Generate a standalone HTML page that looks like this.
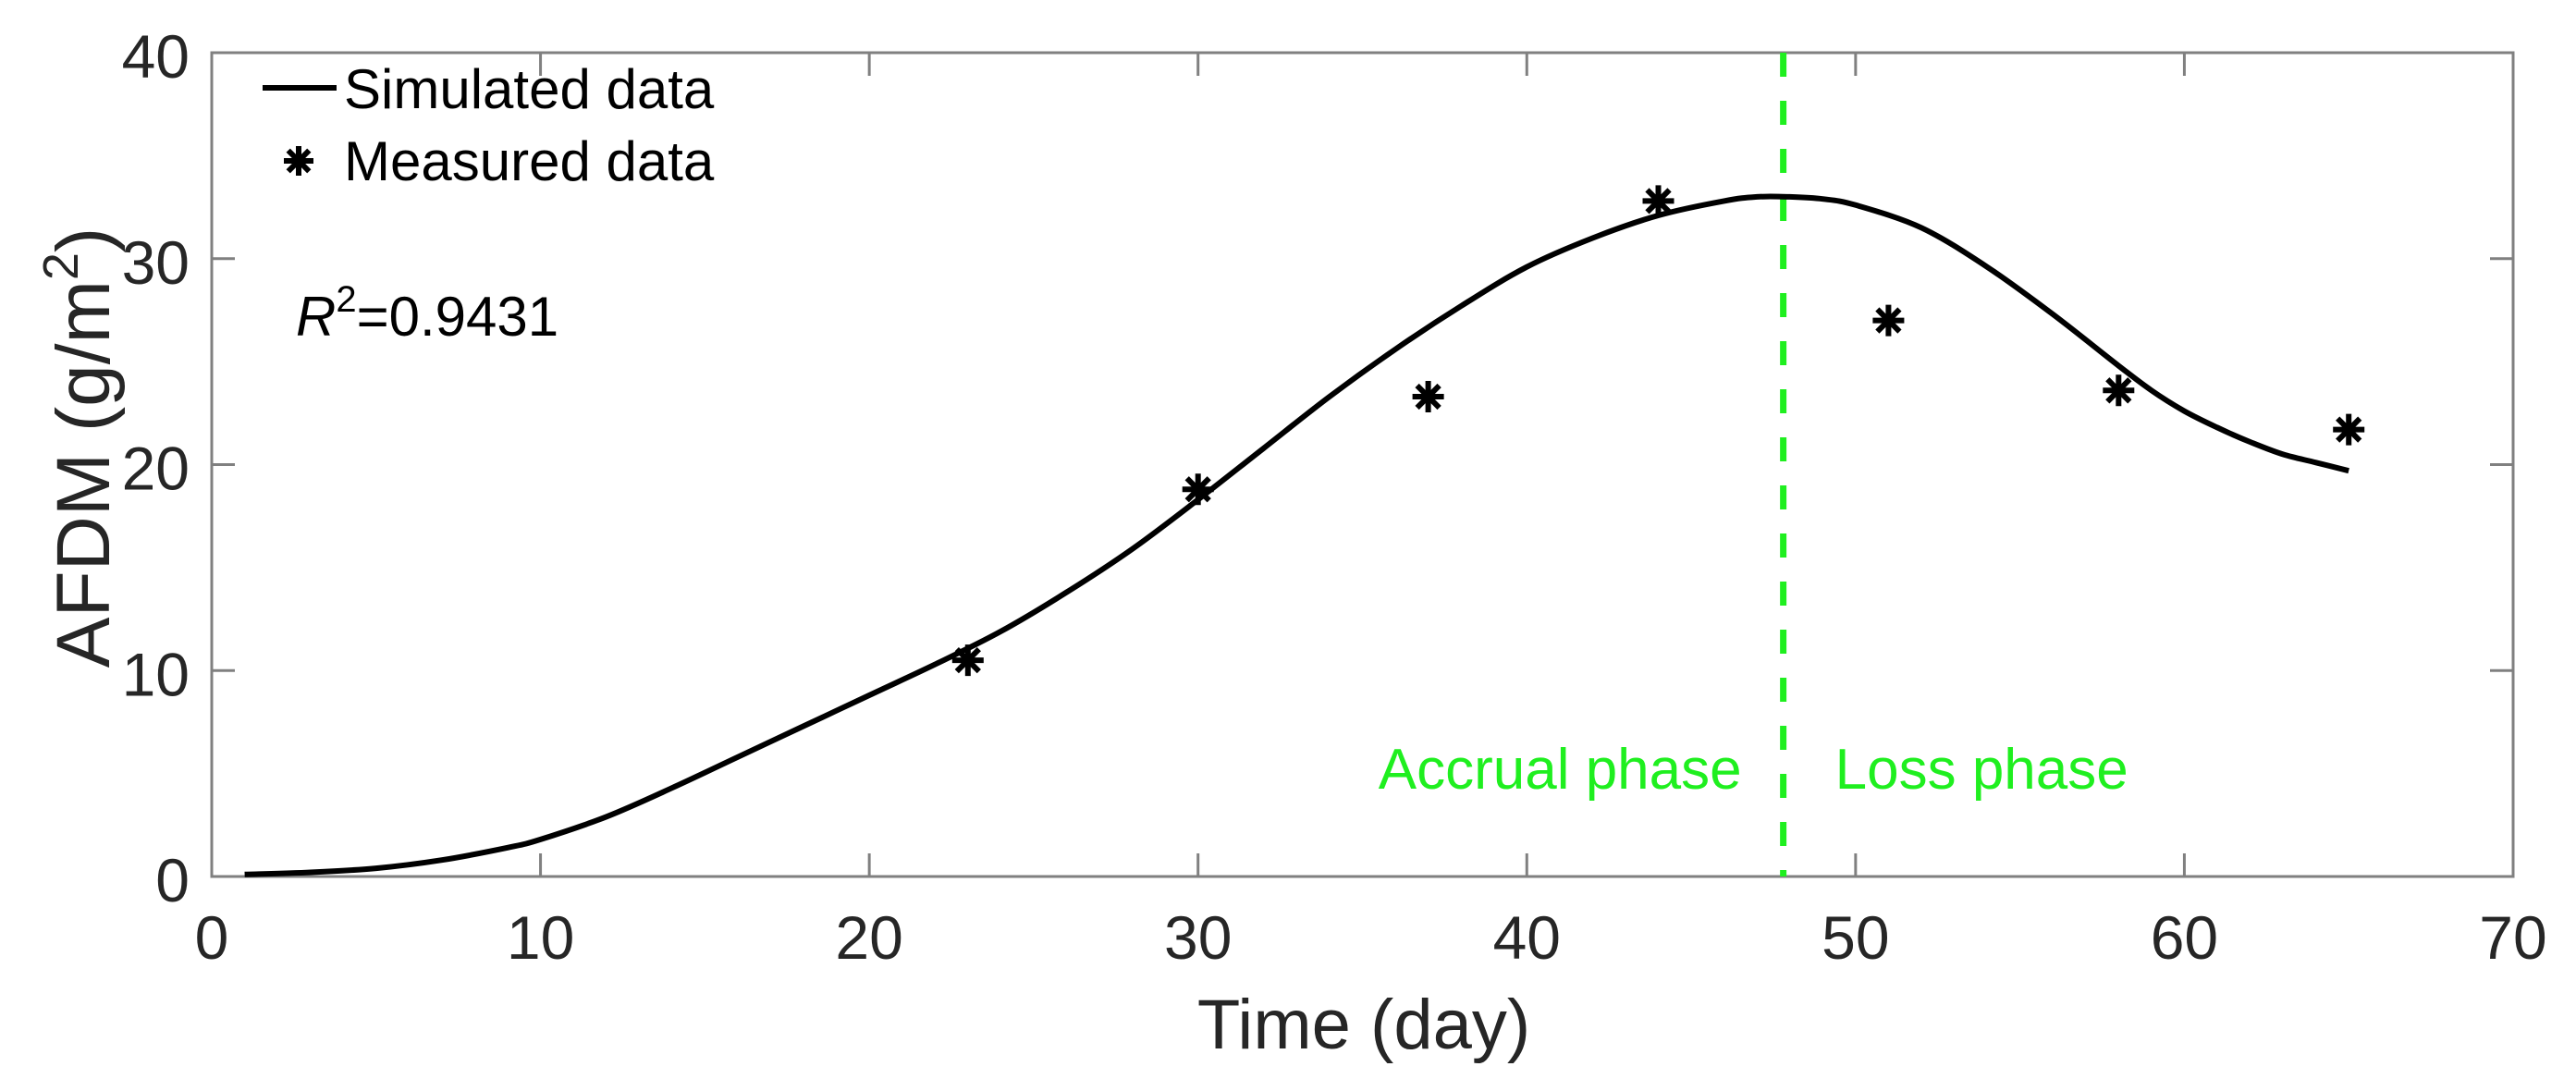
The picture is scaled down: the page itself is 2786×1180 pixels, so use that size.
<!DOCTYPE html>
<html>
<head>
<meta charset="utf-8">
<style>
  html,body{margin:0;padding:0;background:#fff;}
  svg{display:block;font-family:"Liberation Sans",Arial,sans-serif;}
</style>
</head>
<body>
<svg id="chart" width="2786" height="1180" viewBox="0 0 2786 1180" xmlns="http://www.w3.org/2000/svg">
  <rect x="0" y="0" width="2786" height="1180" fill="#fff"/>
  <g id="axes"></g>
  <g id="series"></g>
  <g id="legend"></g>
</svg>
<script>
const curveDays = [1,3,5,7,9,10,12,14,16,18,20,22,24,26,28,30,32,34,36,38,40,42,44,46,47,48,49,50,52,54,56,58,59,60,61,62,63,64,65];
const curveValues = [0.1,0.2,0.4,0.8,1.4,1.8,2.9,4.3,5.8,7.3,8.8,10.3,11.9,13.8,15.9,18.3,20.8,23.3,25.6,27.7,29.6,31.0,32.1,32.8,33.0,33.0,32.9,32.6,31.5,29.6,27.3,24.8,23.6,22.6,21.8,21.1,20.5,20.1,19.7];
const measuredDays = [23,30,37,44,51,58,65];
const measuredValues = [10.5,18.8,23.3,32.8,27.0,23.6,21.7];
const xTicks = [0,10,20,30,40,50,60,70];
const yTicks = [0,10,20,30,40];
const phaseBoundary = 47.8;

const NS = "http://www.w3.org/2000/svg";
const L = 229, R = 2718, T = 57, B = 948;
const xMin = 0, xMax = 70, yMin = 0, yMax = 40;
function xs(v){ return L + (v - xMin) / (xMax - xMin) * (R - L); }
function ys(v){ return B - (v - yMin) / (yMax - yMin) * (B - T); }
function mk(tag, attrs, parent){
  const e = document.createElementNS(NS, tag);
  for (const k in attrs) e.setAttribute(k, attrs[k]);
  parent.appendChild(e);
  return e;
}
const axes = document.getElementById("axes");
const series = document.getElementById("series");
const legend = document.getElementById("legend");

const box = mk("rect", {x:L, y:T, width:R-L, height:B-T, fill:"none", stroke:"#808080", "stroke-width":3}, axes);



const TL = 25;
xTicks.forEach(t => {
  const x = xs(t);
  const tb = mk("line", {x1:x, y1:B, x2:x, y2:B-TL, stroke:"#808080", "stroke-width":3}, axes);
  
  
  const tt = mk("line", {x1:x, y1:T, x2:x, y2:T+TL, stroke:"#808080", "stroke-width":3}, axes);
  
  
  const lab = mk("text", {x:x, y:1037, "text-anchor":"middle", "font-size":66, fill:"#262626"}, axes);
  lab.textContent = t;
  
  
});
yTicks.forEach(t => {
  const y = ys(t);
  const tl = mk("line", {x1:L, y1:y, x2:L+TL, y2:y, stroke:"#808080", "stroke-width":3}, axes);
  
  
  const tr = mk("line", {x1:R, y1:y, x2:R-TL, y2:y, stroke:"#808080", "stroke-width":3}, axes);
  
  
  const lab = mk("text", {x:205, y:y+27, "text-anchor":"end", "font-size":66, fill:"#262626"}, axes);
  lab.textContent = t;
  
  
});

const xt = mk("text", {x:1475, y:1134, "text-anchor":"middle", "font-size":76, fill:"#262626"}, axes);
xt.textContent = "Time (day)";



const yt = mk("text", {x:0, y:0, "text-anchor":"middle", "font-size":82, fill:"#262626", transform:"translate(118,484) rotate(-90)"}, axes);


yt.appendChild(document.createTextNode("AFDM (g/m"));
const sup = mk("tspan", {"font-size":54, dy:-34}, yt);
sup.textContent = "2";
const close = mk("tspan", {dy:34}, yt);
close.textContent = ")";

const pb = mk("line", {x1:xs(phaseBoundary), y1:T, x2:xs(phaseBoundary), y2:B, stroke:"#1fef1f", "stroke-width":7, "stroke-dasharray":"26,26"}, series);



const acc = mk("text", {x:xs(phaseBoundary)-45, y:853, "text-anchor":"end", "font-size":62, fill:"#1fef1f"}, series);
acc.textContent = "Accrual phase";


const loss = mk("text", {x:xs(phaseBoundary)+56, y:853, "font-size":62, fill:"#1fef1f"}, series);
loss.textContent = "Loss phase";



// smooth curve (Catmull-Rom -> cubic Bezier)
const pts = curveDays.map((x, i) => [xs(x), ys(curveValues[i])]);
let d = "M" + pts[0][0].toFixed(1) + "," + pts[0][1].toFixed(1);
for (let i = 0; i < pts.length - 1; i++) {
  const p0 = pts[Math.max(0, i-1)], p1 = pts[i], p2 = pts[i+1], p3 = pts[Math.min(pts.length-1, i+2)];
  const c1 = [p1[0] + (p2[0]-p0[0])/6, p1[1] + (p2[1]-p0[1])/6];
  const c2 = [p2[0] - (p3[0]-p1[0])/6, p2[1] - (p3[1]-p1[1])/6];
  d += "C" + c1[0].toFixed(1) + "," + c1[1].toFixed(1) + " " + c2[0].toFixed(1) + "," + c2[1].toFixed(1) + " " + p2[0].toFixed(1) + "," + p2[1].toFixed(1);
}
const curve = mk("path", {d:d, fill:"none", stroke:"#000", "stroke-width":6, "stroke-linejoin":"round"}, series);



function star(cx, cy, parent, r){
  const g = mk("g", {stroke:"#000", "stroke-width":6}, parent);
  for (let k = 0; k < 4; k++) {
    const a = k * Math.PI / 4;
    mk("line", {x1:cx - r*Math.cos(a), y1:cy - r*Math.sin(a), x2:cx + r*Math.cos(a), y2:cy + r*Math.sin(a)}, g);
  }
  return g;
}
measuredDays.forEach((x, i) => {
  const g = star(xs(x), ys(measuredValues[i]), series, 17);
  
  
});

const ll = mk("line", {x1:284, y1:95, x2:364, y2:95, stroke:"#000", "stroke-width":6}, legend);


const lt1 = mk("text", {x:372, y:117, "font-size":60, fill:"#000"}, legend);
lt1.textContent = "Simulated data";


const ls = star(323, 174, legend, 16);


const lt2 = mk("text", {x:372, y:195, "font-size":60, fill:"#000"}, legend);
lt2.textContent = "Measured data";



const r2 = mk("text", {x:320, y:363, "font-size":60, fill:"#000"}, legend);


const rI = mk("tspan", {"font-style":"italic"}, r2);
rI.textContent = "R";
const r2s = mk("tspan", {"font-size":40, dy:-26}, r2);
r2s.textContent = "2";
const r2v = mk("tspan", {dy:26}, r2);
r2v.textContent = "=0.9431";
</script>
</body>
</html>
